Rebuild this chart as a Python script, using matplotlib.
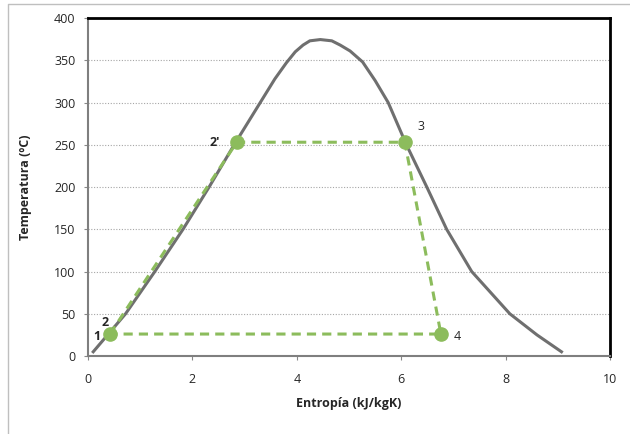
import matplotlib.pyplot as plt
from matplotlib.lines import Line2D

# curva de saturacion (entropia, temperatura)
s_dome = [0.10, 0.72, 1.28, 1.82, 2.32, 2.80, 3.30, 3.58, 3.80, 3.97, 4.12, 4.25, 4.45, 4.67,
          4.83, 5.02, 5.26, 5.50, 5.75, 6.10, 6.49, 6.87, 7.35, 8.08, 8.60, 9.07]
T_dome = [5, 50, 100, 150, 200, 250, 300, 328, 347, 360, 368, 373, 374.5, 373,
          368, 361, 348, 326, 300, 250, 200, 150, 100, 50, 25, 5]

# ciclo Rankine
s_cycle = [0.42, 2.85, 6.07, 6.76, 0.42]
T_cycle = [26, 253, 253, 26, 26]
labels = ['1', '2', "2'", '3', '4']
label_pos = [(0.42, 26), (0.42, 26), (2.85, 253), (6.07, 253), (6.76, 26)]

plt.rcParams['font.family'] = ['Open Sans', 'DejaVu Sans']
fig = plt.figure(figsize=(6.3, 4.34), dpi=100)
ax = fig.add_axes([0.1397, 0.1797, 0.8286, 0.7788])

# borde exterior (solo arriba e izquierda)
fig.add_artist(Line2D([0.013, 0.013, 1.0], [0.0, 0.99, 0.99], transform=fig.transFigure,
                      color='#bfbfbf', linewidth=1.0))

green = '#8cbc5c'
ax.plot(s_dome, T_dome, color='#6f6f6f', linewidth=2.2, zorder=2, solid_joinstyle='round')
ax.plot(s_cycle, T_cycle, color=green, linewidth=2.2, linestyle=(0, (3, 2)), zorder=3)
ax.plot(s_cycle[:4], T_cycle[:4], 'o', color=green, markersize=9.5, zorder=4)

offsets = [(-9.5, -1.5), (-3.5, 8), (-16, -0.5), (11.5, 11), (12, -1.5)]
weights = ['bold', 'bold', 'bold', 'normal', 'normal']
for lab, (x, y), off, w in zip(labels, label_pos, offsets, weights):
    ax.annotate(lab, (x, y), xytext=off, textcoords='offset points', fontsize=9,
                fontweight=w, color='#262626', ha='center', va='center')

ax.set_xlim(0, 10)
ax.set_ylim(0, 400)
ax.set_xticks(range(0, 11, 2))
ax.set_yticks(range(0, 401, 50))
ax.yaxis.grid(True, linestyle=(0, (1, 1.5)), color='#a6a6a6', linewidth=0.8)
ax.set_axisbelow(True)
ax.tick_params(labelsize=9, colors='#262626', length=3, color='#888888')
ax.tick_params(axis='x', pad=9)
ax.tick_params(axis='y', pad=6)

for side in ['top', 'right']:
    ax.spines[side].set_color('black')
    ax.spines[side].set_linewidth(2)
for side in ['left', 'bottom']:
    ax.spines[side].set_color('#7f7f7f')
    ax.spines[side].set_linewidth(1.5)

ax.set_xlabel('Entropía (kJ/kgK)', fontsize=9, fontweight='bold', color='#262626', labelpad=8)
ax.set_ylabel('Temperatura (ºC)', fontsize=9, fontweight='bold', color='#262626', labelpad=16)

fig.savefig('out.png', dpi=100)
